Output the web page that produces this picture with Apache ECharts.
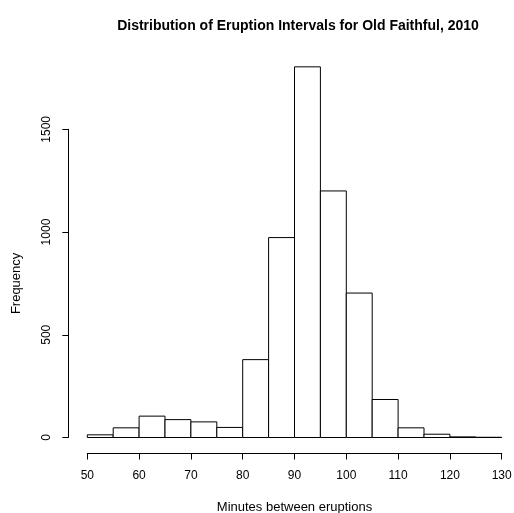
<!DOCTYPE html>
<html>
<head>
<meta charset="utf-8">
<script src="https://cdn.jsdelivr.net/npm/echarts@6/dist/echarts.min.js"></script>
<style>
  html, body { margin: 0; padding: 0; background: #fff; }
  #chart { width: 514px; height: 513px; }
</style>
</head>
<body>
<div id="chart"></div>
<script>
// bin edges (minutes) and counts
var binStarts = [50, 55, 60, 65, 70, 75, 80, 85, 90, 95, 100, 105, 110, 115, 120, 125];
var binWidth = 5;
var counts = [13, 47, 104, 87, 76, 49, 379, 973, 1804, 1200, 703, 185, 47, 16, 3, 1];
var xTicks = [50, 60, 70, 80, 90, 100, 110, 120, 130];
var yTicks = [0, 500, 1000, 1500];

var font = 'Liberation Sans, Arial, Helvetica, sans-serif';

var chartDom = document.getElementById('chart');
var myChart = echarts.init(chartDom, null, { renderer: 'canvas' });

var option = {
  animation: false,
  title: {
    text: 'Distribution of Eruption Intervals for Old Faithful, 2010',
    left: 293,
    top: 14,
    textAlign: 'center',
    textStyle: { fontFamily: font, fontSize: 14, fontWeight: 'bold', color: '#000' }
  },
  grid: { left: 87.3, right: 12.3, top: 129.3, bottom: 75.5, containLabel: false, outerBoundsMode: 'none' },
  xAxis: {
    type: 'value',
    min: xTicks[0],
    max: xTicks[xTicks.length - 1],
    interval: 10,
    offset: 16,
    name: 'Minutes between eruptions',
    nameLocation: 'middle',
    nameGap: 47,
    nameTextStyle: { fontFamily: font, fontSize: 13, color: '#000' },
    splitLine: { show: false },
    axisLine: { show: true, onZero: false, lineStyle: { color: '#000', width: 1 } },
    axisTick: { show: true, length: 6, lineStyle: { color: '#000' } },
    axisLabel: { fontFamily: font, fontSize: 12, color: '#000', margin: 16, showMinLabel: true, showMaxLabel: true }
  },
  yAxis: {
    type: 'value',
    min: yTicks[0],
    max: yTicks[yTicks.length - 1],
    interval: 500,
    offset: 19,
    name: 'Frequency',
    nameLocation: 'middle',
    nameGap: 45,
    nameTextStyle: { fontFamily: font, fontSize: 13, color: '#000' },
    splitLine: { show: false },
    axisLine: { show: true, onZero: false, lineStyle: { color: '#000', width: 1 } },
    axisTick: { show: true, length: 6, lineStyle: { color: '#000' } },
    axisLabel: {
      fontFamily: font, fontSize: 12, color: '#000', rotate: 90, margin: 16,
      formatter: function (v) { return String(v); }
    }
  },
  series: [{
    type: 'custom',
    clip: false,
    data: binStarts.map(function (s, i) { return [s, s + binWidth, counts[i]]; }),
    encode: { x: [0, 1], y: 2 },
    renderItem: function (params, api) {
      var p0 = api.coord([api.value(0), 0]);
      var p1 = api.coord([api.value(1), api.value(2)]);
      return {
        type: 'rect',
        shape: { x: p0[0], y: p1[1], width: p1[0] - p0[0], height: p0[1] - p1[1] },
        style: { fill: '#fff', stroke: '#000', lineWidth: 1 }
      };
    }
  }]
};

myChart.setOption(option);
</script>
</body>
</html>
